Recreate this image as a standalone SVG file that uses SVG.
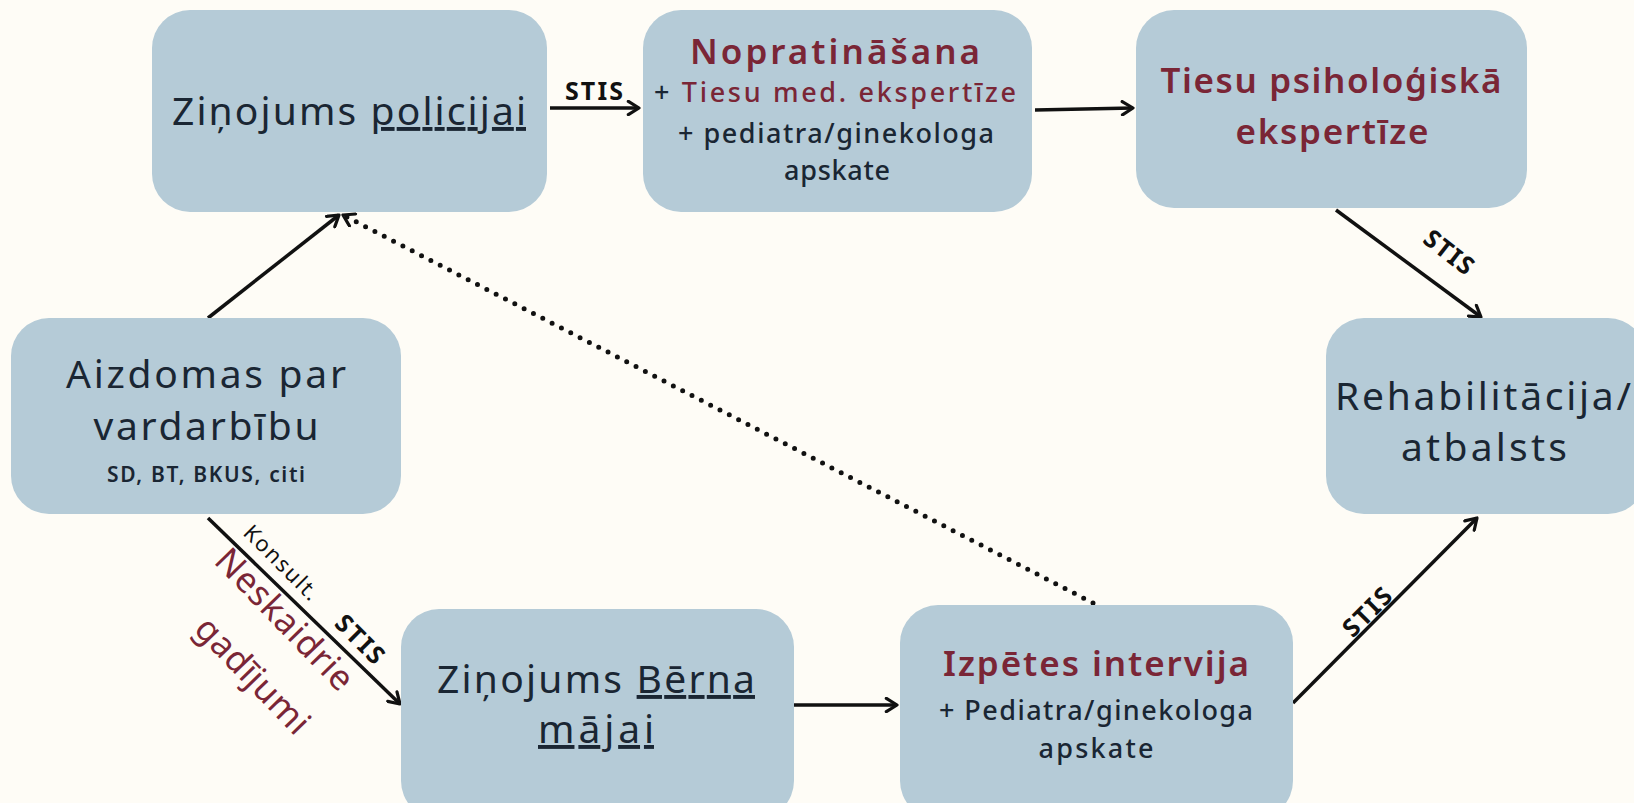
<svg xmlns="http://www.w3.org/2000/svg" width="1634" height="803" viewBox="0 0 1634 803">
<style>
.bg{fill:#FEFCF6}
.box{fill:#B5CBD7}
text{font-family:"Noto Sans","DejaVu Sans",sans-serif;text-anchor:middle}
.m{font-size:39px;fill:#1A2633}
.h{font-size:35px;font-weight:600;fill:#7A2636}
.s{font-size:27px;font-weight:500;fill:#1A2633}
.r{fill:#7A2636}
.sm{font-size:21px;font-weight:600;fill:#1A2633}
.lbl{font-size:25px;font-weight:700;fill:#111}
.k{font-size:22px;fill:#111}
.n{font-size:35px;fill:#7A2636}
.u{text-decoration:underline}
.c{fill:none;stroke:#111;stroke-width:3.5}
.d{fill:none;stroke:#111;stroke-width:5;stroke-linecap:round;stroke-dasharray:0 10.5}
.ah{fill:none;stroke:#111;stroke-width:2.4;stroke-linecap:round;stroke-linejoin:round}
</style>
<defs>
<marker id="arr" viewBox="0 0 12 12" refX="10" refY="6" markerWidth="16" markerHeight="16" markerUnits="userSpaceOnUse" orient="auto">
<path class="ah" d="M2,1 L10,6 L2,11"/>
</marker>
</defs>
<rect class="bg" x="0" y="0" width="1634" height="803"/>

<g id="connectors">
<line class="c" x1="550" y1="108" x2="639" y2="108" marker-end="url(#arr)"/>
<line class="c" x1="1035" y1="110" x2="1133" y2="108" marker-end="url(#arr)"/>
<line class="c" x1="1336" y1="210" x2="1481" y2="317" marker-end="url(#arr)"/>
<line class="c" x1="208" y1="318" x2="339" y2="215" marker-end="url(#arr)"/>
<line class="d" x1="1093" y1="603" x2="343" y2="215" marker-end="url(#arr)"/>
<line class="c" x1="208" y1="518" x2="400" y2="704" marker-end="url(#arr)"/>
<line class="c" x1="794" y1="705" x2="897" y2="705" marker-end="url(#arr)"/>
<line class="c" x1="1293" y1="703" x2="1477" y2="518" marker-end="url(#arr)"/>
<text class="lbl" x="594" y="100" textLength="58">STIS</text>
<text class="lbl" transform="translate(1449,252) rotate(38)" y="9" textLength="56">STIS</text>
<text class="lbl" transform="translate(1367,612) rotate(-45)" y="9" textLength="58">STIS</text>
<text class="k" transform="translate(281,563) rotate(45)" y="7" textLength="96">Konsult.</text>
<text class="lbl" transform="translate(360,639) rotate(45)" y="9" textLength="58">STIS</text>
<text class="n" transform="translate(284,620) rotate(46)" y="11" textLength="182">Neskaidrie</text>
<text class="n" transform="translate(252,676) rotate(46)" y="11" textLength="148">gadījumi</text>
</g>

<g id="n1">
<rect class="box" x="152" y="10" width="395" height="202" rx="38"/>
<text class="m" x="349" y="125" textLength="354">Ziņojums <tspan class="u">policijai</tspan></text>
</g>

<g id="n2">
<rect class="box" x="643" y="10" width="389" height="202" rx="38"/>
<text class="h" x="835" y="64" textLength="290">Nopratināšana</text>
<text class="s" x="835" y="102" textLength="362">+ <tspan class="r">Tiesu med. ekspertīze</tspan></text>
<text class="s" x="836" y="143" textLength="316">+ pediatra/ginekologa</text>
<text class="s" x="837" y="180" textLength="106">apskate</text>
</g>

<g id="n3">
<rect class="box" x="1136" y="10" width="391" height="198" rx="38"/>
<text class="h" x="1331" y="93" textLength="341">Tiesu psiholoģiskā</text>
<text class="h" x="1332" y="144" textLength="193">ekspertīze</text>
</g>

<g id="n4">
<rect class="box" x="11" y="318" width="390" height="196" rx="38"/>
<text class="m" x="206" y="388" textLength="280">Aizdomas par</text>
<text class="m" x="206" y="440" textLength="225">vardarbību</text>
<text class="sm" x="206" y="482" textLength="198">SD, BT, BKUS, citi</text>
</g>

<g id="n5">
<rect class="box" x="1326" y="318" width="320" height="196" rx="38"/>
<text class="m" x="1483" y="410" textLength="296">Rehabilitācija/</text>
<text class="m" x="1484" y="461" textLength="166">atbalsts</text>
</g>

<g id="n6">
<rect class="box" x="401" y="609" width="393" height="210" rx="38"/>
<text class="m" x="596" y="693" textLength="318">Ziņojums <tspan class="u">Bērna</tspan></text>
<text class="m u" x="596" y="743" textLength="116">mājai</text>
</g>

<g id="n7">
<rect class="box" x="900" y="605" width="393" height="214" rx="38"/>
<text class="h" x="1096" y="676" textLength="306">Izpētes intervija</text>
<text class="s" x="1096" y="720" textLength="314">+ Pediatra/ginekologa</text>
<text class="s" x="1096" y="758" textLength="115">apskate</text>
</g>
</svg>
